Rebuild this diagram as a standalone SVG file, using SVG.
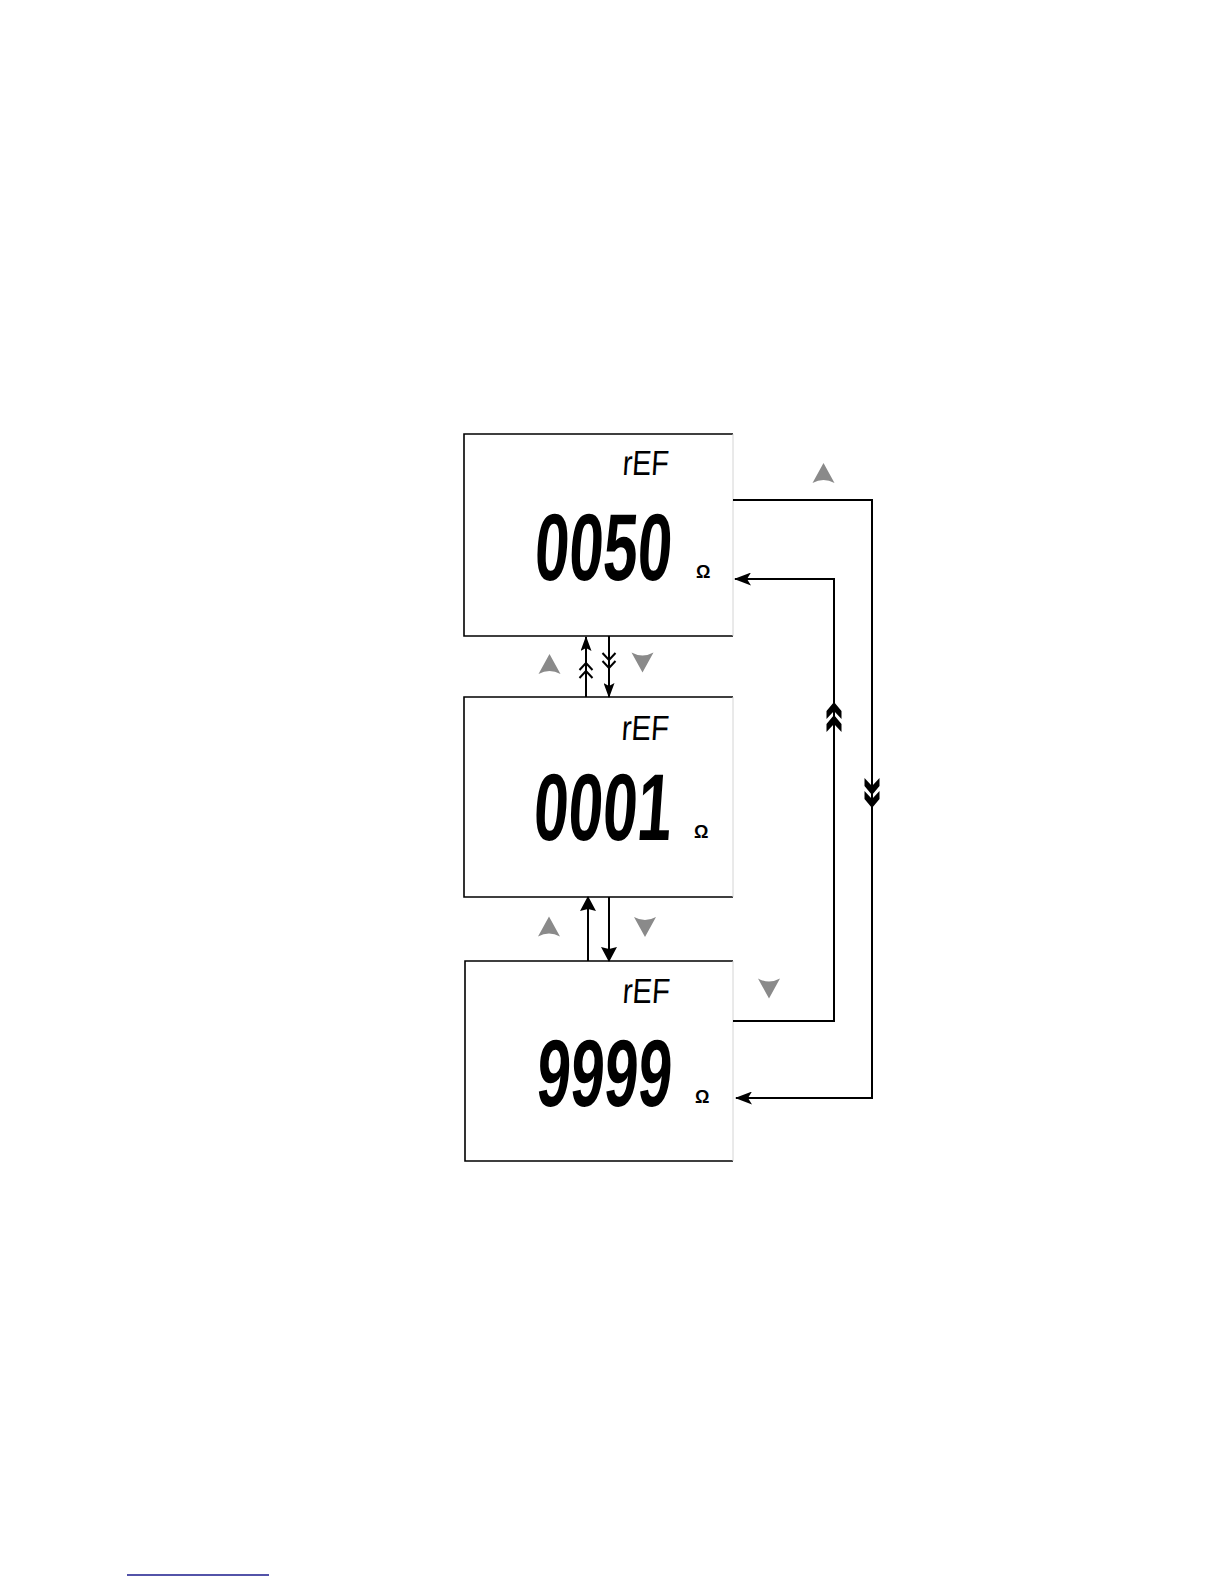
<svg xmlns="http://www.w3.org/2000/svg" xmlns:xlink="http://www.w3.org/1999/xlink" width="1224" height="1584" viewBox="0 0 1224 1584">
<style>
.frame{fill:none;stroke:#000;stroke-width:1.6}
.edge{fill:none;stroke:#d4d4d4;stroke-width:1}
.bg{fill:#fff}
.seg{font-family:"Liberation Sans",Arial,sans-serif;fill:#000}
.big{font-weight:bold}
.ohm{font-family:"Liberation Sans",Arial,sans-serif;font-weight:bold;font-size:18px;fill:#000}
.ln{fill:none;stroke:#000;stroke-width:2}
.chev{fill:none;stroke:#000;stroke-width:2}
.icon{fill:#8a8a8a}
.fchev{fill:#000}
</style>
<defs>
<marker id="ahS" markerUnits="userSpaceOnUse" markerWidth="15" markerHeight="11" viewBox="0 0 15 11" refX="14" refY="5.5" orient="auto"><path d="M0,0 L15,5.5 L0,11 L3,5.5 Z" fill="#000"/></marker>
<marker id="ahL" markerUnits="userSpaceOnUse" markerWidth="15" markerHeight="16" viewBox="0 0 15 16" refX="14" refY="8" orient="auto"><path d="M0,0 L15,8 L0,16 L2,8 Z" fill="#000"/></marker>
<marker id="ahM" markerUnits="userSpaceOnUse" markerWidth="17" markerHeight="13" viewBox="0 0 17 13" refX="16" refY="6.5" orient="auto"><path d="M0,0 L17,6.5 L0,13 L4,6.5 Z" fill="#000"/></marker>
<path id="iconUp" d="M0,-10 L11,10 Q0,4 -11,10 Z"/>
<g id="dblChev"><path d="M0,0 L7.5,9 L7.5,17 L0,9 L-7.5,17 L-7.5,9 Z"/><path d="M0,13 L7.5,22 L7.5,30 L0,22 L-7.5,30 L-7.5,22 Z"/></g>
</defs>

<g id="node-1">
<rect class="bg" x="464" y="434" width="269" height="202"/>
<path class="frame" d="M733,434 L464,434 L464,636 L733,636"/>
<line class="edge" x1="733" y1="434" x2="733" y2="636"/>
<text class="seg" font-size="35" x="0" y="0" textLength="46" lengthAdjust="spacingAndGlyphs" transform="translate(622,475) skewX(-4)">rEF</text>
<text class="seg big" font-size="95" x="0" y="0" textLength="137" lengthAdjust="spacingAndGlyphs" transform="translate(533,580) skewX(-4)">0050</text>
<text class="ohm" x="696" y="578">Ω</text>
</g>

<g id="node-2">
<rect class="bg" x="464" y="697" width="269" height="200"/>
<path class="frame" d="M733,697 L464,697 L464,897 L733,897"/>
<line class="edge" x1="733" y1="697" x2="733" y2="897"/>
<text class="seg" font-size="35" x="0" y="0" textLength="47" lengthAdjust="spacingAndGlyphs" transform="translate(621,740) skewX(-4)">rEF</text>
<text class="seg big" font-size="95" x="0" y="0" textLength="138" lengthAdjust="spacingAndGlyphs" transform="translate(532,840) skewX(-4)">0001</text>
<text class="ohm" x="694" y="838">Ω</text>
</g>

<g id="node-3">
<rect class="bg" x="465" y="961" width="268" height="200"/>
<path class="frame" d="M733,961 L465,961 L465,1161 L733,1161"/>
<line class="edge" x1="733" y1="961" x2="733" y2="1161"/>
<text class="seg" font-size="35" x="0" y="0" textLength="47" lengthAdjust="spacingAndGlyphs" transform="translate(622,1003) skewX(-4)">rEF</text>
<text class="seg big" font-size="95" x="0" y="0" textLength="135" lengthAdjust="spacingAndGlyphs" transform="translate(535,1106) skewX(-4)">9999</text>
<text class="ohm" x="695" y="1103">Ω</text>
</g>

<g id="icons">
<use xlink:href="#iconUp" class="icon" transform="translate(823.5,473)"/>
<use xlink:href="#iconUp" class="icon" transform="translate(549.5,664)"/>
<use xlink:href="#iconUp" class="icon" transform="translate(642.5,662.5) rotate(180)"/>
<use xlink:href="#iconUp" class="icon" transform="translate(549,926.5)"/>
<use xlink:href="#iconUp" class="icon" transform="translate(645,927) rotate(180)"/>
<use xlink:href="#iconUp" class="icon" transform="translate(769,988.5) rotate(180)"/>
</g>

<g id="connectors">
<path class="ln" d="M586,697 L586,637" marker-end="url(#ahS)"/>
<path class="chev" d="M579.5,670 L586,663 L592.5,670 M579.5,678 L586,671 L592.5,678"/>
<path class="ln" d="M609,636 L609,697" marker-end="url(#ahS)"/>
<path class="chev" d="M602.5,653 L609,660 L615.5,653 M602.5,661 L609,668 L615.5,661"/>

<path class="ln" d="M588,961 L588,897" marker-end="url(#ahL)"/>
<path class="ln" d="M609,897 L609,961" marker-end="url(#ahL)"/>

<path class="ln" d="M733,500 L872,500 L872,1098 L736,1098" marker-end="url(#ahM)"/>
<use xlink:href="#dblChev" class="fchev" transform="translate(872,808) rotate(180)"/>
<path class="ln" d="M733,1021 L834,1021 L834,579 L735,579" marker-end="url(#ahM)"/>
<use xlink:href="#dblChev" class="fchev" transform="translate(834,702)"/>
</g>

<line x1="127" y1="1575" x2="269" y2="1575" stroke="#1a1a8c" stroke-width="1.6"/>
</svg>
